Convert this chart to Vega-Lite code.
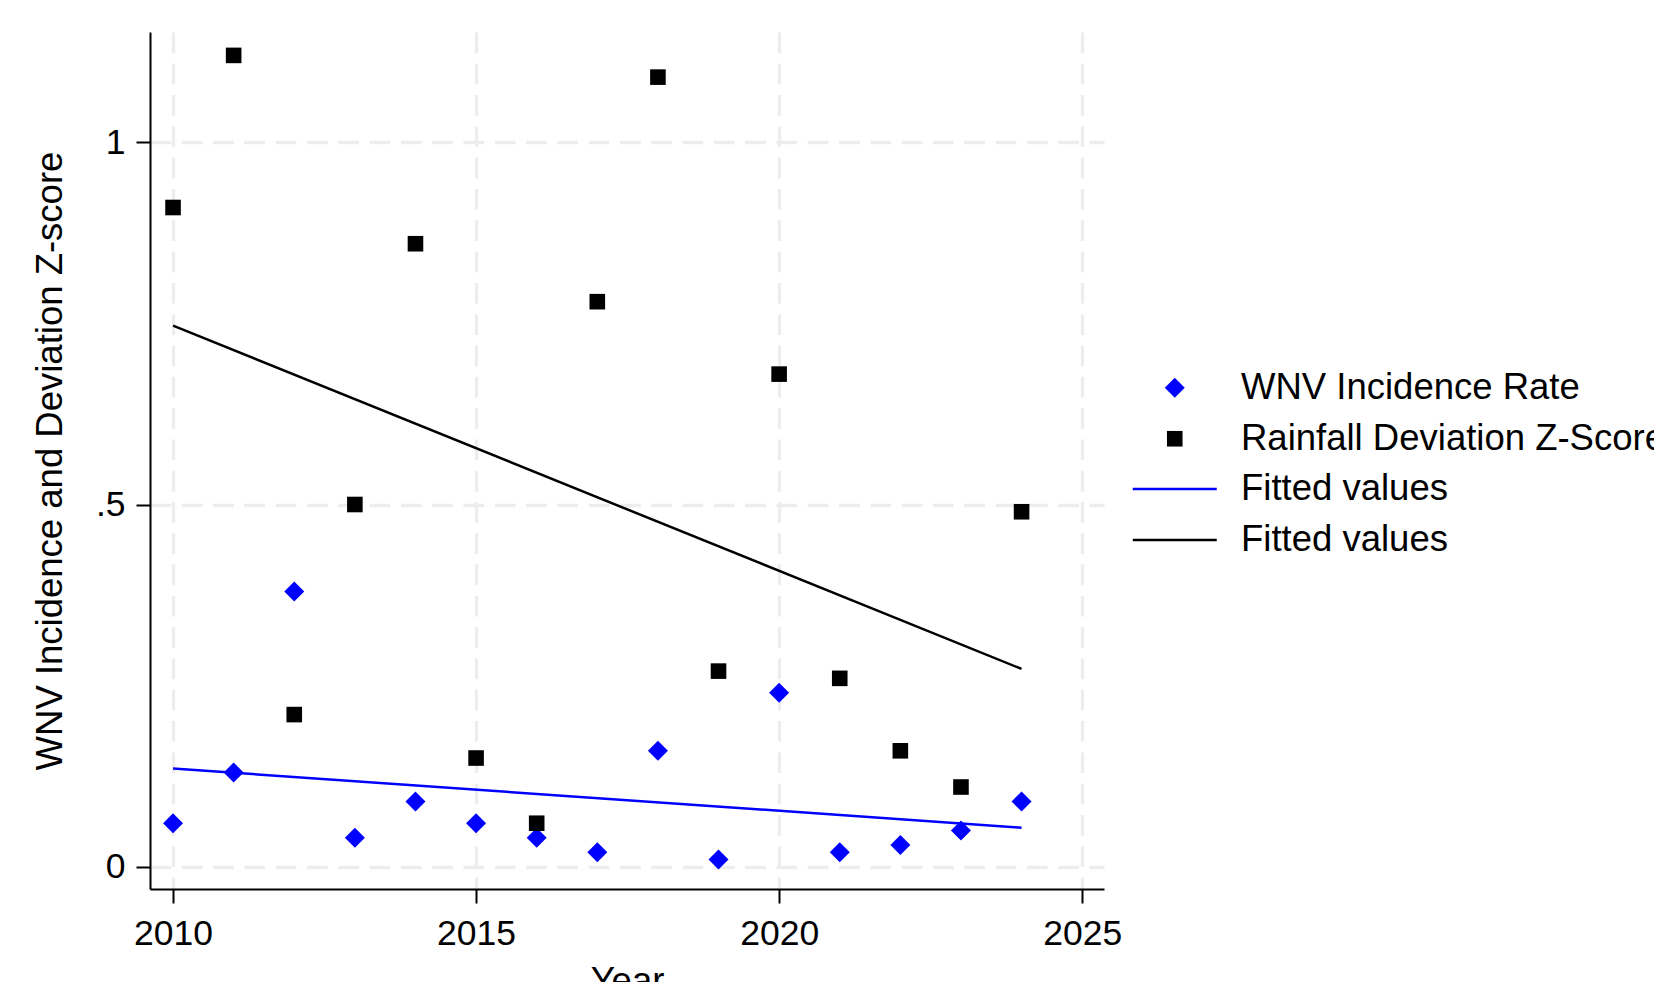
{
  "$schema": "https://vega.github.io/schema/vega-lite/v6.json",
  "autosize": {"type": "none"},
  "width": 954,
  "height": 857,
  "padding": {"left": 150, "top": 32, "right": 550, "bottom": 93},
  "background": "white",
  "config": {
    "view": {"stroke": null},
    "font": "Liberation Sans",
    "axis": {
      "labelFont": "Liberation Sans",
      "titleFont": "Liberation Sans",
      "labelFontSize": 35.5,
      "titleFontSize": 36.5,
      "titleFontWeight": "normal",
      "labelColor": "#000000",
      "titleColor": "#000000",
      "domainColor": "#000000",
      "domainWidth": 2,
      "tickColor": "#000000",
      "tickWidth": 2,
      "tickSize": 14,
      "grid": true,
      "gridColor": "#ededed",
      "gridWidth": 3.3,
      "gridDash": [20.7, 10.6],
      "labelFlush": false,
      "labelOverlap": false
    },
    "legend": {
      "title": null,
      "orient": "none",
      "padding": 0,
      "labelFont": "Liberation Sans",
      "labelFontSize": 36.5,
      "labelColor": "#000000",
      "labelLimit": 900,
      "labelOffset": 48,
      "symbolOffset": 24.5,
      "symbolSize": 400,
      "rowPadding": 14,
      "symbolOpacity": 1
    }
  },
  "data": {
    "values": [
      {"year": 2010, "series": "WNV Incidence Rate", "fit": "Fitted WNV", "value": 0.06},
      {"year": 2011, "series": "WNV Incidence Rate", "fit": "Fitted WNV", "value": 0.13},
      {"year": 2012, "series": "WNV Incidence Rate", "fit": "Fitted WNV", "value": 0.38},
      {"year": 2013, "series": "WNV Incidence Rate", "fit": "Fitted WNV", "value": 0.04},
      {"year": 2014, "series": "WNV Incidence Rate", "fit": "Fitted WNV", "value": 0.09},
      {"year": 2015, "series": "WNV Incidence Rate", "fit": "Fitted WNV", "value": 0.06},
      {"year": 2016, "series": "WNV Incidence Rate", "fit": "Fitted WNV", "value": 0.04},
      {"year": 2017, "series": "WNV Incidence Rate", "fit": "Fitted WNV", "value": 0.02},
      {"year": 2018, "series": "WNV Incidence Rate", "fit": "Fitted WNV", "value": 0.16},
      {"year": 2019, "series": "WNV Incidence Rate", "fit": "Fitted WNV", "value": 0.01},
      {"year": 2020, "series": "WNV Incidence Rate", "fit": "Fitted WNV", "value": 0.24},
      {"year": 2021, "series": "WNV Incidence Rate", "fit": "Fitted WNV", "value": 0.02},
      {"year": 2022, "series": "WNV Incidence Rate", "fit": "Fitted WNV", "value": 0.03},
      {"year": 2023, "series": "WNV Incidence Rate", "fit": "Fitted WNV", "value": 0.05},
      {"year": 2024, "series": "WNV Incidence Rate", "fit": "Fitted WNV", "value": 0.09},
      {"year": 2010, "series": "Rainfall Deviation Z-Score", "fit": "Fitted Rainfall", "value": 0.91},
      {"year": 2011, "series": "Rainfall Deviation Z-Score", "fit": "Fitted Rainfall", "value": 1.12},
      {"year": 2012, "series": "Rainfall Deviation Z-Score", "fit": "Fitted Rainfall", "value": 0.21},
      {"year": 2013, "series": "Rainfall Deviation Z-Score", "fit": "Fitted Rainfall", "value": 0.50},
      {"year": 2014, "series": "Rainfall Deviation Z-Score", "fit": "Fitted Rainfall", "value": 0.86},
      {"year": 2015, "series": "Rainfall Deviation Z-Score", "fit": "Fitted Rainfall", "value": 0.15},
      {"year": 2016, "series": "Rainfall Deviation Z-Score", "fit": "Fitted Rainfall", "value": 0.06},
      {"year": 2017, "series": "Rainfall Deviation Z-Score", "fit": "Fitted Rainfall", "value": 0.78},
      {"year": 2018, "series": "Rainfall Deviation Z-Score", "fit": "Fitted Rainfall", "value": 1.09},
      {"year": 2019, "series": "Rainfall Deviation Z-Score", "fit": "Fitted Rainfall", "value": 0.27},
      {"year": 2020, "series": "Rainfall Deviation Z-Score", "fit": "Fitted Rainfall", "value": 0.68},
      {"year": 2021, "series": "Rainfall Deviation Z-Score", "fit": "Fitted Rainfall", "value": 0.26},
      {"year": 2022, "series": "Rainfall Deviation Z-Score", "fit": "Fitted Rainfall", "value": 0.16},
      {"year": 2023, "series": "Rainfall Deviation Z-Score", "fit": "Fitted Rainfall", "value": 0.11},
      {"year": 2024, "series": "Rainfall Deviation Z-Score", "fit": "Fitted Rainfall", "value": 0.49}
    ]
  },
  "layer": [
    {
      "mark": {"type": "point", "filled": true, "size": 400, "opacity": 1, "strokeWidth": 0},
      "encoding": {
        "x": {
          "field": "year",
          "type": "quantitative",
          "title": "Year",
          "scale": {"domain": [2009.62, 2025.36], "nice": false, "zero": false},
          "axis": {"values": [2010, 2015, 2020, 2025], "format": "d", "labelPadding": 13, "titlePadding": 12}
        },
        "y": {
          "field": "value",
          "type": "quantitative",
          "title": "WNV Incidence and Deviation Z-score",
          "scale": {"domain": [-0.0308, 1.1523], "nice": false, "zero": false},
          "axis": {"values": [0, 0.5, 1], "labelExpr": "datum.value === 0.5 ? '.5' : format(datum.value, 'd')", "labelAngle": 0, "labelPadding": 11, "titlePadding": 26}
        },
        "color": {
          "field": "series",
          "type": "nominal",
          "scale": {
            "domain": ["WNV Incidence Rate", "Rainfall Deviation Z-Score"],
            "range": ["#0000ff", "#000000"]
          },
          "legend": {"legendX": 982, "legendY": 337.5, "symbolStrokeWidth": 0}
        },
        "shape": {
          "field": "series",
          "type": "nominal",
          "scale": {
            "domain": ["WNV Incidence Rate", "Rainfall Deviation Z-Score"],
            "range": ["diamond", "M-0.78,-0.78H0.78V0.78H-0.78Z"]
          },
          "legend": {"legendX": 982, "legendY": 337.5, "symbolStrokeWidth": 0}
        }
      }
    },
    {
      "transform": [{"regression": "value", "on": "year", "groupby": ["fit"]}],
      "mark": {"type": "line", "strokeWidth": 2.5},
      "encoding": {
        "x": {"field": "year", "type": "quantitative"},
        "y": {"field": "value", "type": "quantitative"},
        "stroke": {
          "field": "fit",
          "type": "nominal",
          "scale": {"domain": ["Fitted WNV", "Fitted Rainfall"], "range": ["#0000ff", "#000000"]},
          "legend": {
            "legendX": 982,
            "legendY": 438.7,
            "symbolType": "M-4.2,0H4.2",
            "symbolStrokeWidth": 2.5,
            "labelExpr": "'Fitted values'"
          }
        }
      }
    }
  ]
}
